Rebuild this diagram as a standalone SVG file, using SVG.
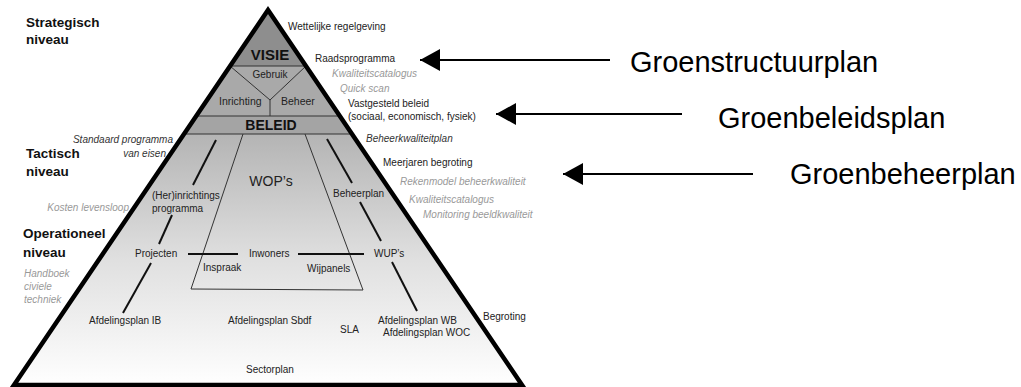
<svg xmlns="http://www.w3.org/2000/svg" width="1021" height="387" viewBox="0 0 1021 387">
<style>
text{font-family:"Liberation Sans",Arial,sans-serif;fill:#222;font-size:10px}
.lvl{font-weight:bold;font-size:13.5px;fill:#111}
.it{font-style:italic;fill:#999}
.itd{font-style:italic;fill:#333}
.big{font-size:29px;fill:#000}
.hd{font-weight:bold;fill:#111}
.mid{text-anchor:middle}
.end{text-anchor:end}
.thin{stroke:#333;stroke-width:1;fill:none}
.con{stroke:#111;stroke-width:2;fill:none}
.arr{stroke:#000;stroke-width:2;fill:none;marker-end:url(#ah)}
</style>
<defs>
<clipPath id="tri"><polygon points="268,10 14,385 522,385"/></clipPath>
<linearGradient id="g" x1="0" y1="0" x2="0" y2="1">
<stop offset="0" stop-color="#b4b4b4"/>
<stop offset="0.5" stop-color="#e0e0e0"/>
<stop offset="1" stop-color="#ffffff"/>
</linearGradient>
<marker id="ah" markerUnits="userSpaceOnUse" markerWidth="20" markerHeight="22" refX="20" refY="11" orient="auto">
<path d="M0,0 L20,11 L0,22 z" fill="#000"/>
</marker>
</defs>
<rect width="1021" height="387" fill="#fff"/>
<g id="pyramid">
<g clip-path="url(#tri)">
<rect x="0" y="134" width="540" height="253" fill="url(#g)"/>
<rect x="0" y="116" width="540" height="18" fill="#a4a4a4"/>
<rect x="0" y="66" width="540" height="50" fill="#a9a9a9"/>
<rect x="0" y="0" width="540" height="66" fill="#8e8e8e"/>
<line class="thin" x1="0" y1="66" x2="540" y2="66"/>
<line class="thin" x1="0" y1="116" x2="540" y2="116"/>
<line class="thin" x1="0" y1="134" x2="540" y2="134"/>
<polyline class="thin" points="230,66 270,100 306,66"/>
<line class="thin" x1="270" y1="100" x2="270" y2="116"/>
</g>
<polygon points="268,10 14,385 522,385" fill="none" stroke="#000" stroke-width="4.5"/>
</g>
<g id="wop-frame"><polyline class="thin" points="243,134 191,289 363,290 305,134"/></g>
<g id="connectors">
<line class="con" x1="216" y1="140" x2="193" y2="185"/>
<line class="con" x1="172" y1="215" x2="159" y2="244"/>
<line class="con" x1="151" y1="263" x2="123" y2="313"/>
<line class="con" x1="327" y1="139" x2="352" y2="183"/>
<line class="con" x1="360" y1="202" x2="381" y2="241"/>
<line class="con" x1="392" y1="262" x2="417" y2="311"/>
<line class="con" x1="188" y1="254" x2="238" y2="254"/>
<line class="con" x1="298" y1="254" x2="364" y2="254"/>
<line class="arr" x1="610" y1="60" x2="420" y2="60"/>
<line class="arr" x1="682" y1="114" x2="496" y2="114"/>
<line class="arr" x1="753" y1="174" x2="563" y2="174"/>
</g>
<g id="levels">
<text class="lvl" x="26" y="27">Strategisch</text>
<text class="lvl" x="26" y="44">niveau</text>
<text class="lvl" x="26" y="158">Tactisch</text>
<text class="lvl" x="26" y="176">niveau</text>
<text class="lvl" x="23" y="238">Operationeel</text>
<text class="lvl" x="23" y="257">niveau</text>
</g>
<g id="left-notes">
<text class="itd end" x="173" y="143">Standaard programma</text>
<text class="itd end" x="166" y="157">van eisen</text>
<text class="it end" x="129" y="211">Kosten levensloop</text>
<text class="it" x="24" y="277">Handboek</text>
<text class="it" x="24" y="290">civiele</text>
<text class="it" x="24" y="303">techniek</text>
</g>
<g id="visie"><text class="hd mid" x="270" y="60" style="font-size:15px">VISIE</text></g>
<g id="gebruik"><text class="mid" x="270" y="78">Gebruik</text></g>
<g id="inrichting"><text x="219" y="105" style="font-size:10.5px">Inrichting</text></g>
<g id="beheer"><text x="281" y="105" style="font-size:10.5px">Beheer</text></g>
<g id="beleid"><text class="hd mid" x="271" y="130" style="font-size:14px">BELEID</text></g>
<g id="wops"><text class="mid" x="271" y="186" style="font-size:14px">WOP’s</text></g>
<g id="herinrichting"><text x="152" y="199">(Her)inrichtings</text><text x="152" y="212">programma</text></g>
<g id="beheerplan"><text x="333" y="197">Beheerplan</text></g>
<g id="projecten"><text x="135" y="257">Projecten</text></g>
<g id="inwoners"><text x="249" y="257">Inwoners</text></g>
<g id="wups"><text x="374" y="257">WUP’s</text></g>
<g id="inspraak"><text x="203" y="271">Inspraak</text></g>
<g id="wijpanels"><text x="307" y="272">Wijpanels</text></g>
<g id="afd-ib"><text x="89" y="324">Afdelingsplan IB</text></g>
<g id="afd-sbdf"><text x="228" y="324">Afdelingsplan Sbdf</text></g>
<g id="sla"><text x="340" y="333">SLA</text></g>
<g id="afd-wb"><text x="378" y="324">Afdelingsplan WB</text><text x="383" y="336">Afdelingsplan WOC</text></g>
<g id="sectorplan"><text x="246" y="373">Sectorplan</text></g>
<g id="begroting"><text x="483" y="320">Begroting</text></g>
<g id="right-notes">
<text x="288" y="30">Wettelijke regelgeving</text>
<text x="315" y="62">Raadsprogramma</text>
<text class="it" x="332" y="77">Kwaliteitscatalogus</text>
<text class="it" x="340" y="92">Quick scan</text>
<text x="348" y="107">Vastgesteld beleid</text>
<text x="348" y="120">(sociaal, economisch, fysiek)</text>
<text class="itd" x="366" y="142">Beheerkwaliteitplan</text>
<text x="383" y="166">Meerjaren begroting</text>
<text class="it" x="400" y="185">Rekenmodel beheerkwaliteit</text>
<text class="it" x="409" y="203">Kwaliteitscatalogus</text>
<text class="it" x="423" y="218">Monitoring beeldkwaliteit</text>
</g>
<g id="groenstructuurplan"><text class="big" x="630" y="72">Groenstructuurplan</text></g>
<g id="groenbeleidsplan"><text class="big" x="718" y="128">Groenbeleidsplan</text></g>
<g id="groenbeheerplan"><text class="big" x="790" y="184">Groenbeheerplan</text></g>
</svg>
